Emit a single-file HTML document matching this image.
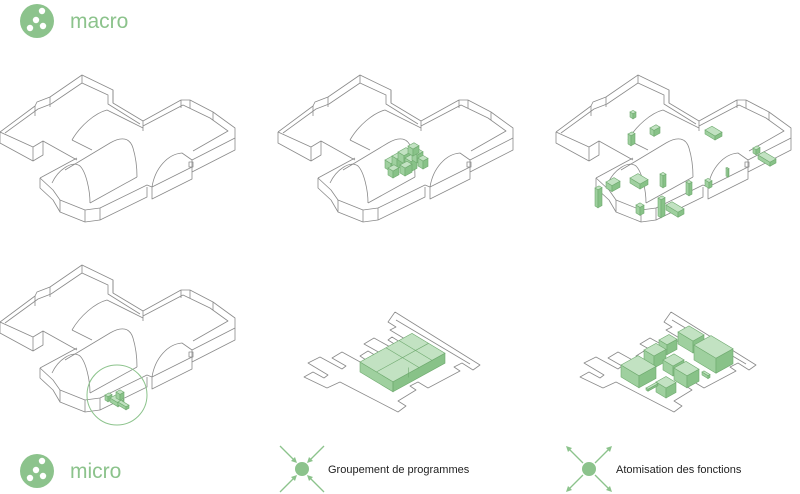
<!DOCTYPE html>
<html><head><meta charset="utf-8"><style>
html,body{margin:0;padding:0;background:#fff;}
svg{display:block;}
text{font-family:"Liberation Sans",sans-serif;}
</style></head><body>
<svg id="s" width="800" height="494" viewBox="0 0 800 494" xmlns="http://www.w3.org/2000/svg">
<defs>
<g id="bld" fill="none" stroke="#8a8a8a" stroke-width="0.8" stroke-linejoin="round">
 <polyline points="0,132 35,106 37,102 50,97 82,75 113,90 113,103 143,121 181,100 190,100 213,112 235,128 235,138"/>
 <polyline points="5,133 38,109 51,104 82,83 108,95 108,104 140,124"/>
 <polyline points="143,126 183,105 210,118 228,131 193,151"/>
 <polyline points="0,132 0,143 33,161 43,155 43,141 77,160"/>
 <line x1="33" y1="147" x2="43" y2="141"/><line x1="0" y1="132" x2="33" y2="147"/><line x1="33" y1="147" x2="33" y2="161"/>
 <line x1="35" y1="106" x2="35" y2="116"/><line x1="50" y1="97" x2="50" y2="107"/><line x1="82" y1="75" x2="82" y2="83"/>
 <line x1="113" y1="90" x2="113" y2="103"/><line x1="143" y1="121" x2="143" y2="131"/><line x1="181" y1="100" x2="181" y2="108"/><line x1="190" y1="100" x2="190" y2="108"/><line x1="213" y1="112" x2="213" y2="120"/>
 <polyline points="40,178 77,158"/>
 <polyline points="40,178 53,190 60,200 85,210 100,208 147,185 152,187 192,167 192,160 235,138"/>
 <polyline points="40,178 40,188 53,200 60,212 85,222 100,220 147,197 147,187"/>
 <polyline points="152,187 152,199 192,179 192,167"/>
 <polyline points="192,172 235,150 235,138"/>
 <line x1="60" y1="200" x2="60" y2="212"/><line x1="85" y1="210" x2="85" y2="222"/><line x1="100" y1="208" x2="100" y2="220"/>
 <path d="M52,183 C58,170 72,160 80,166 C86,172 90,190 90,203"/>
 <path d="M65,170 L110,143 C122,136 130,138 133,148 C136,158 137,170 137,177"/>
 <line x1="90" y1="203" x2="137" y2="177"/>
 <path d="M72,140 C80,126 95,113 107,110 L143,128"/>
 <line x1="72" y1="140" x2="92" y2="150"/>
 <path d="M152,187 C155,168 168,154 182,153 L192,160"/>
 <rect x="189" y="162" width="4" height="5"/>
</g>
<g id="plan" fill="none" stroke="#8a8a8a" stroke-width="0.8" stroke-linejoin="round">
 <polyline points="115,12 200,65 193,70 182,63 174,67 180,71 148,88 138,82 130,86 136,90 118,101 126,106 118,112 60,82 47,88 24,77 33,72 44,78 48,75 28,63 40,57 62,69 66,66 52,58 62,52 82,63 86,60 80,56 88,51 98,57 102,54 84,44 94,38 112,48 116,45 108,40 112,37 120,42 125,39 110,30 116,27 108,22 115,12"/>
 <polyline points="116,20 190,64"/>
</g>
</defs>
<g id="root"></g>
<circle cx="37" cy="21" r="17" fill="#8cc38c"/>
<circle cx="42" cy="11" r="3.2" fill="#fff"/><circle cx="36" cy="20" r="3.2" fill="#fff"/><circle cx="30" cy="28" r="3.2" fill="#fff"/><circle cx="43" cy="26" r="3.2" fill="#fff"/>
<text x="70" y="28" font-size="21" fill="#8cc38c">macro</text>
<circle cx="37" cy="471" r="17" fill="#8cc38c"/>
<circle cx="42" cy="461" r="3.2" fill="#fff"/><circle cx="36" cy="470" r="3.2" fill="#fff"/><circle cx="30" cy="478" r="3.2" fill="#fff"/><circle cx="43" cy="476" r="3.2" fill="#fff"/>
<text x="70" y="478" font-size="21" fill="#8cc38c">micro</text>
<g stroke="#8cc38c" stroke-width="1.3" fill="#8cc38c">
 <circle cx="302" cy="469" r="7" stroke="none"/>
 <line x1="280" y1="446" x2="295" y2="461"/><line x1="324" y1="446" x2="309" y2="461"/>
 <line x1="280" y1="492" x2="295" y2="477"/><line x1="324" y1="492" x2="309" y2="477"/>
 <polygon points="297,463 291,461 295,457" stroke="none"/><polygon points="307,463 313,461 309,457" stroke="none"/>
 <polygon points="297,475 291,477 295,481" stroke="none"/><polygon points="307,475 313,477 309,481" stroke="none"/>
 <circle cx="589" cy="469" r="7" stroke="none"/>
 <line x1="568" y1="448" x2="583" y2="463"/><line x1="610" y1="448" x2="595" y2="463"/>
 <line x1="568" y1="490" x2="583" y2="475"/><line x1="610" y1="490" x2="595" y2="475"/>
 <polygon points="566,446 572,448 568,452" stroke="none"/><polygon points="612,446 606,448 610,452" stroke="none"/>
 <polygon points="566,492 572,490 568,486" stroke="none"/><polygon points="612,492 606,490 610,486" stroke="none"/>
</g>
<text x="328" y="473" font-size="11" fill="#222">Groupement de programmes</text>
<text x="616" y="473" font-size="11" fill="#222">Atomisation des fonctions</text>
<circle cx="117" cy="395" r="30" fill="none" stroke="#8cc38c" stroke-width="1"/>
</svg>
<script>
var NS="http://www.w3.org/2000/svg",root=document.getElementById("root");
function el(n,a,p){var e=document.createElementNS(NS,n);for(var k in a)e.setAttribute(k,a[k]);(p||root).appendChild(e);return e;}
[[0,0],[278,0],[556,0],[0,190]].forEach(function(t){el("use",{href:"#bld",transform:"translate("+t[0]+","+t[1]+")"});});
el("use",{href:"#plan",transform:"translate(280,300)"});
el("use",{href:"#plan",transform:"translate(556,300)"});
function box(x,y,u,v,h){
 var p0=[x,y],p1=[x+u,y-u*0.55],p2=[p1[0]+v,p1[1]+v*0.6],p3=[x+v,y+v*0.6];
 function s(a){return a.map(function(q){return q[0].toFixed(1)+","+q[1].toFixed(1)}).join(" ");}
 var st={stroke:"#6faa6f","stroke-width":"0.6"};
 el("polygon",Object.assign({points:s([p0,p3,[p3[0],p3[1]+h],[x,y+h]]),fill:"#9fd09f"},st));
 el("polygon",Object.assign({points:s([p3,p2,[p2[0],p2[1]+h],[p3[0],p3[1]+h]]),fill:"#88c288"},st));
 el("polygon",Object.assign({points:s([p0,p1,p2,p3]),fill:"#c2e2c2"},st));
}
function ln(x1,y1,x2,y2){el("line",{x1:x1,y1:y1,x2:x2,y2:y2,stroke:"#6faa6f","stroke-width":"0.6"});}
var X=280,Y=300;
box(X+80,Y+62,52,33,10);
// dividing lines on top face: parallel to v at u fractions
[0.5,0.75].forEach(function(f){var x=X+80+52*f,y=Y+62-52*0.55*f;ln(x,y,x+33,y+33*0.6);});
[0.5].forEach(function(f){var x=X+80+33*f,y=Y+62+33*0.6*f;ln(x,y,x+52,y-52*0.55);});
// front divisions
ln(X+80+33,Y+62+19.8,X+80+33,Y+62+29.8);
ln(X+80+33+26*0.6,Y+62+19.8-14.3,X+80+33+26*0.6,Y+62+19.8-14.3+10);
X=556;
[[122,32,11,15,12],[138,45,17,22,15],[103,40,10,8,10],[88,50,12,10,12],[65,65,17,18,12],[107,60,11,10,10],[118,68,12,13,12],[100,82,10,10,10],[90,88,10,2,2],[146,72,2,6,3]].forEach(function(b){box(X+b[0],Y+b[1],b[2],b[3],b[4]);});
[[385,160,8,6,8],[392,156,6,5,10],[398,152,8,6,8],[405,158,6,6,10],[412,152,6,5,8],[400,165,7,5,8],[388,168,6,5,7],[418,158,5,5,8],[408,146,6,5,7]].forEach(function(b){box(b[0],b[1],b[2],b[3],b[4]);});
[[628,134,4,3,10],[650,128,6,4,6],[630,112,3,3,5],[705,130,7,10,4],[753,148,4,3,5],[758,155,6,12,4],[595,188,4,3,18],[606,182,8,6,6],[630,178,8,10,5],[660,174,3,3,12],[658,198,4,3,18],[636,205,4,4,8],[666,205,6,12,5],[686,182,3,3,12],[705,180,3,4,6],[726,168,1,2,8]].forEach(function(b){box(b[0],b[1],b[2],b[3],b[4]);});
[[105,395,4,3,5],[110,398,6,8,4],[116,392,4,4,6],[118,402,3,8,3]].forEach(function(b){box(b[0],b[1],b[2],b[3],b[4]);});
</script>
</body></html>
